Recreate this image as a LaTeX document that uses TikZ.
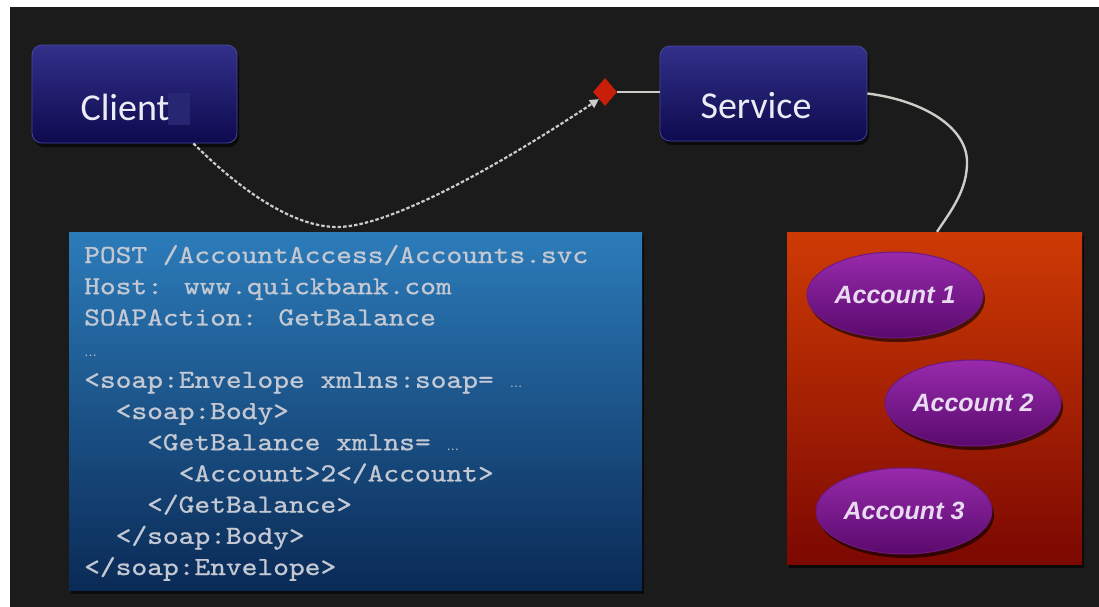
\documentclass[tikz,border=0pt]{standalone}
\usepackage{fontspec}
\setmainfont{Carlito}
\newfontfamily\codefont{lmmono10-regular.otf}[FakeStretch=1.154,FakeBold=0.9]
\newfontfamily\accfont{Liberation Sans}
\usetikzlibrary{shapes.geometric,arrows.meta,shadows}

\definecolor{stage}{RGB}{27,27,27}
\definecolor{navytop}{RGB}{50,48,138}
\definecolor{navybot}{RGB}{14,10,78}
\definecolor{navyrim}{RGB}{70,68,160}
\definecolor{navypatch}{RGB}{38,38,114}
\definecolor{roleink}{RGB}{236,236,246}
\definecolor{codetop}{RGB}{44,124,186}
\definecolor{codebot}{RGB}{10,42,86}
\definecolor{codeink}{RGB}{196,200,210}
\definecolor{storetop}{RGB}{206,58,4}
\definecolor{storebot}{RGB}{124,8,2}
\definecolor{accttop}{RGB}{152,42,172}
\definecolor{acctbot}{RGB}{90,10,110}
\definecolor{acctrim}{RGB}{110,24,130}
\definecolor{acctink}{RGB}{232,218,240}
\definecolor{wire}{RGB}{205,205,200}
\definecolor{pin}{RGB}{200,30,10}

\tikzset{
  softshadow/.style={drop shadow={shadow xshift=2pt,shadow yshift=-4pt,opacity=0.6,fill=black}},
  rolebox/.style={rectangle,rounded corners=10pt,top color=navytop,bottom color=navybot,
    draw=navyrim,line width=0.8pt,inner sep=0pt,softshadow},
  rolename/.style={anchor=base,text=roleink,inner sep=0pt,font=\fontsize{38}{38}\selectfont},
  codepanel/.style={rectangle,top color=codetop,bottom color=codebot,inner sep=0pt,softshadow},
  codeline/.style={anchor=base west,inner sep=0pt,text=codeink,font=\codefont\fontsize{26}{31}\selectfont},
  storebox/.style={rectangle,top color=storetop,bottom color=storebot,inner sep=0pt,softshadow},
  acct/.style={ellipse,top color=accttop,bottom color=acctbot,draw=acctrim,line width=1pt,
    minimum width=176pt,minimum height=86pt,inner sep=0pt,text=acctink,
    font=\accfont\bfseries\itshape\fontsize{25}{25}\selectfont,softshadow},
  plainwire/.style={draw=wire,line width=2.4pt},
  request/.style={draw=wire,line width=2.2pt,dash pattern=on 3.5pt off 2pt,
    -{Triangle[length=9pt,width=9pt]}},
  pinmark/.style={diamond,fill=pin,minimum width=24pt,minimum height=28pt,inner sep=0pt},
}

\newcommand{\tinydots}{{\accfont\fontsize{13}{13}\selectfont\textellipsis}}

\begin{document}
\begin{tikzpicture}[x=1pt,y=1pt]
  % page and dark stage (the stage runs past the right and bottom edges)
  \fill[white] (-20,20) rectangle (1120,-630);
  \fill[stage] (10,-7) rectangle (1120,-630);

  % client and service boxes
  \node[rolebox,minimum width=205pt,minimum height=98pt] (client) at (134.5,-94) {};
  \fill[navypatch] (168,-93) rectangle (190,-125);
  \node[rolename] (clientname) at (125,-120) {Client};

  \node[rolebox,minimum width=207pt,minimum height=95pt] (service) at (763.5,-93.5) {};
  \node[rolename] (servicename) at (756,-118) {Service};

  % endpoint marker in front of the service
  \node[pinmark] (pin) at (605,-92) {};

  % request message panel
  \node[codepanel,minimum width=573pt,minimum height=358pt] (msg) at (355.5,-411) {};
  \node[codeline] (l1)  at (84,-263)    {POST /AccountAccess/Accounts.svc};
  \node[codeline] (l2)  at (84,-294.2)  {Host: www.quickbank.com};
  \node[codeline] (l3)  at (84,-325.4)  {SOAPAction: GetBalance};
  \node[codeline] (l4)  at (84,-356.6)  {\tinydots};
  \node[codeline] (l5)  at (84,-387.8)  {<soap:Envelope xmlns:soap= \tinydots};
  \node[codeline] (l6)  at (115.5,-419) {<soap:Body>};
  \node[codeline] (l7)  at (147,-450.2) {<GetBalance xmlns= \tinydots};
  \node[codeline] (l8)  at (178.5,-481.4) {<Account>2</Account>};
  \node[codeline] (l9)  at (147,-512.6) {</GetBalance>};
  \node[codeline] (l10) at (115.5,-543.8) {</soap:Body>};
  \node[codeline] (l11) at (84,-575)    {</soap:Envelope>};

  % account store
  \node[storebox,minimum width=295pt,minimum height=332pt] (store) at (934.5,-398) {};
  \node[acct] (acct1) at (895,-295) {Account 1};
  \node[acct] (acct2) at (973,-403) {Account 2};
  \node[acct] (acct3) at (904,-511) {Account 3};

  % connectors
  \draw[plainwire] (pin.east) -- (pin.east -| service.west);

  \coordinate (dip) at (337,-227);
  \draw[request] ([xshift=-44pt]client.south east)
      .. controls (235,-185) and (290,-227) .. (dip)
      .. controls (390,-227) and (500,-165) .. (pin.south west);

  \coordinate (swing) at (967,-160);
  \draw[plainwire] (service.east)
      .. controls (920,-100) and (965,-125) .. (swing)
      .. controls (968,-190) and (950,-212) .. ([xshift=2.5pt]store.north);

  % fix the page to the frame
  \pgfresetboundingbox
  \useasboundingbox (0,0) rectangle (1099,-606);
\end{tikzpicture}
\end{document}
